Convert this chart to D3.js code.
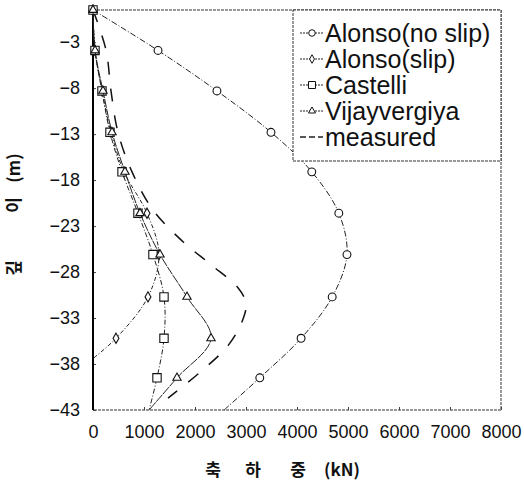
<!DOCTYPE html>
<html>
<head>
<meta charset="utf-8">
<script src="https://cdn.jsdelivr.net/npm/d3@7"></script>
<style>
  body { margin: 0; background: #fff; }
  text { font-family: "Liberation Sans", Arial, sans-serif; fill: #111; }
  .kr { font-family: "Noto Sans CJK KR", sans-serif; font-weight: bold; }
</style>
</head>
<body>
<div id="chart"></div>
<script>
// depth of marker rows (m) and loads (kN)
const depths = [0.5, -3.9, -8.3, -12.8, -17.1, -21.6, -26.1, -30.7, -35.2, -39.5, -43];
const noSlip = [0, 1275, 2430, 3490, 4290, 4820, 4980, 4690, 4080, 3270, 2570];
const slipDepths = [0.5, -3.9, -8.3, -12.8, -17.1, -21.6, -26.1, -30.7, -35.2, -37.4];
const slip = [0, 40, 176, 353, 608, 1059, 1294, 1078, 451, 0];
const castelli = [0, 39, 176, 333, 569, 882, 1176, 1392, 1392, 1255, 1100];
const vijay = [0, 40, 196, 373, 627, 922, 1314, 1843, 2314, 1647, 1100];
const measDepths = [0.5, -3.85, -8.3, -12.8, -17.1, -21.25, -24.7, -27.2, -29.7, -31.4, -33.4, -36.0, -38.9, -41.7];
const measured = [0, 255, 353, 490, 765, 1176, 1765, 2314, 2843, 3000, 2922, 2647, 2098, 1471];
const xTicks = [0, 1000, 2000, 3000, 4000, 5000, 6000, 7000, 8000];
const yTicks = [-3, -8, -13, -18, -23, -28, -33, -38, -43];
const legendNames = ["Alonso(no slip)", "Alonso(slip)", "Castelli", "Vijayvergiya", "measured"];

var width = 524, height = 483;
var margin = {left: 93, top: 10, right: 23, bottom: 73};
var w = width - margin.left - margin.right,
    h = height - margin.top - margin.bottom;

var svg = d3.select("#chart").append("svg")
    .attr("width", width)
    .attr("height", height);

var g = svg.append("g")
    .attr("transform", "translate(" + margin.left + "," + margin.top + ")");

var x = d3.scaleLinear().domain([0, 8000]).range([0, w]);
var y = d3.scaleLinear().domain([-43, 0.5]).range([h, 0]);

// frame
g.append("rect")
    .attr("width", w).attr("height", h)
    .attr("fill", "none")
    .attr("stroke", "#333")
    .attr("stroke-width", 1)
    .attr("stroke-dasharray", "3,1");

// axes
var xAxis = g.append("g")
    .attr("transform", "translate(0," + h + ")")
    .call(d3.axisBottom(x).tickValues(xTicks).tickSize(-3).tickPadding(15).tickFormat(d3.format("d")));
xAxis.select(".domain").remove();
xAxis.selectAll("text").style("font-size", "18px");
xAxis.selectAll("line").attr("stroke", "#444");

var yAxis = g.append("g")
    .call(d3.axisLeft(y).tickValues(yTicks).tickSize(-3).tickPadding(13));
yAxis.select(".domain").remove();
yAxis.selectAll("text").style("font-size", "18px");
yAxis.selectAll("line").attr("stroke", "#444");

g.append("line")
    .attr("x1", 0).attr("x2", 0)
    .attr("y1", 0).attr("y2", h)
    .attr("stroke", "#000")
    .attr("stroke-width", 2);

// series
var series = [
  {name: legendNames[0], load: noSlip, depth: depths, marks: 10, sym: d3.symbolCircle, size: 48, dash: "6,2,1,2"},
  {name: legendNames[1], load: slip, depth: slipDepths, marks: 9, sym: d3.symbolDiamond, size: 30, dash: "4,2,1,2"},
  {name: legendNames[2], load: castelli, depth: depths, marks: 10, sym: d3.symbolSquare, size: 70, dash: "5,2,1,2"},
  {name: legendNames[3], load: vijay, depth: depths, marks: 10, sym: d3.symbolTriangle, size: 30, dash: "9,1"}
];

var line = d3.line()
    .x(function(d) { return x(d[0]); })
    .y(function(d) { return y(d[1]); })
    .curve(d3.curveCatmullRom.alpha(0.5));

// measured dashed line
g.append("path")
    .datum(d3.zip(measured, measDepths))
    .attr("d", line)
    .attr("fill", "none")
    .attr("stroke", "#111")
    .attr("stroke-width", 1.5)
    .attr("stroke-dasharray", "13,14");

series.forEach(function(s) {
    var pts = d3.zip(s.load, s.depth);
    g.append("path")
        .datum(pts)
        .attr("d", line)
        .attr("fill", "none")
        .attr("stroke", "#222")
        .attr("stroke-width", 1)
        .attr("stroke-dasharray", s.dash);
    g.selectAll(null)
        .data(pts.slice(0, s.marks))
        .enter().append("path")
        .attr("transform", function(d) { return "translate(" + x(d[0]) + "," + y(d[1]) + ")"; })
        .attr("d", d3.symbol().type(s.sym).size(s.size))
        .attr("fill", "#fff")
        .attr("stroke", "#111")
        .attr("stroke-width", 1.1);
});

// legend
var lg = g.append("g").attr("transform", "translate(" + (w - 208) + ",0)");
lg.append("rect")
    .attr("width", 208).attr("height", 151)
    .attr("fill", "#fff")
    .attr("stroke", "#333")
    .attr("stroke-dasharray", "3,1");

var item = lg.selectAll(".legend")
    .data(legendNames)
    .enter().append("g")
    .attr("class", "legend")
    .attr("transform", function(d, i) { return "translate(0," + (23 + i * 26) + ")"; });

item.append("line")
    .attr("x1", 7).attr("x2", 30)
    .attr("stroke", "#222")
    .attr("stroke-width", function(d, i) { return i === 4 ? 1.5 : 1; })
    .attr("stroke-dasharray", function(d, i) { return i === 4 ? "6,3" : "2,1"; });

item.filter(function(d, i) { return i < 4; })
    .append("path")
    .attr("transform", "translate(19,0)")
    .attr("d", function(d, i) { return d3.symbol().type(series[i].sym).size(series[i].size * 0.7)(); })
    .attr("fill", "#fff")
    .attr("stroke", "#111");

item.append("text")
    .attr("x", 32)
    .attr("dy", "0.35em")
    .style("font-size", "25px")
    .text(function(d) { return d; });

// axis titles
var xt = svg.append("text").attr("class", "kr").attr("y", 476).style("font-size", "17px");
[["축", 213], ["하", 253], ["중", 298], ["(kN)", 342]].forEach(function(p) {
    xt.append("tspan").attr("x", p[1]).attr("text-anchor", "middle").text(p[0]);
});

var yt = svg.append("text").attr("class", "kr")
    .attr("transform", "translate(20,0) rotate(-90)")
    .style("font-size", "17px");
[["깊", 268], ["이", 205], ["(m)", 168]].forEach(function(p) {
    yt.append("tspan").attr("x", -p[1]).attr("text-anchor", "middle").text(p[0]);
});
</script>
</body>
</html>
